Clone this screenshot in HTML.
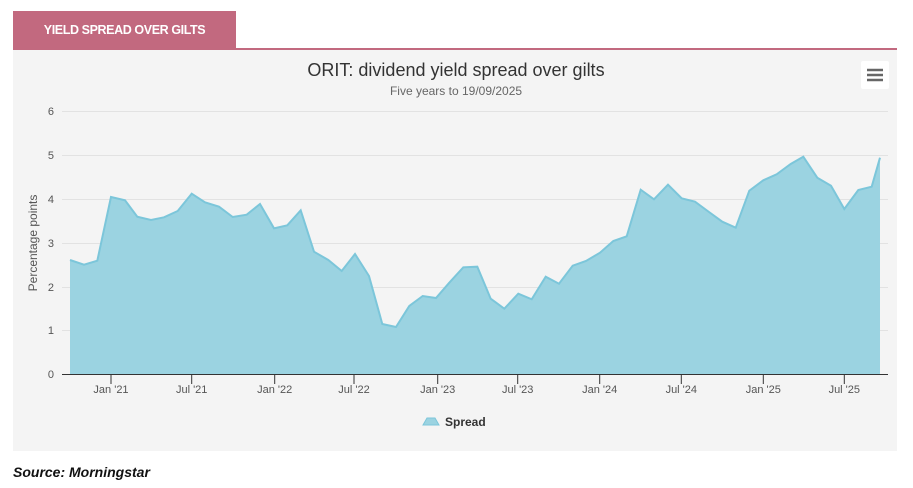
<!DOCTYPE html>
<html><head><style>
body{margin:0;width:913px;height:488px;background:#fff;font-family:"Liberation Sans",sans-serif;position:relative;overflow:hidden}
.tab{position:absolute;left:13px;top:11px;width:223px;height:38px;background:#c2697f;color:#fff;font-weight:bold;font-size:12.5px;line-height:38px;text-align:center;letter-spacing:-0.4px}
.rule{position:absolute;left:13px;top:48px;width:884px;height:2px;background:#c2697f}
.panel{position:absolute;left:13px;top:50px;width:884px;height:401px;background:#f4f4f4}
.src{position:absolute;left:13px;top:464px;font-size:14px;font-style:italic;color:#111;font-weight:bold}
</style></head><body>
<div class="tab">YIELD SPREAD OVER GILTS</div>
<div class="rule"></div>
<div class="panel"></div>
<svg width="913" height="488" style="position:absolute;left:0;top:0" font-family="Liberation Sans, sans-serif">
<text x="456" y="76" text-anchor="middle" font-size="18" fill="#333">ORIT: dividend yield spread over gilts</text>
<text x="456" y="95" text-anchor="middle" font-size="12" fill="#666">Five years to 19/09/2025</text>
<rect x="861" y="61" width="28" height="28" rx="2" fill="#fff"/>
<g stroke="#666" stroke-width="2.5"><line x1="867" y1="70" x2="883" y2="70"/><line x1="867" y1="75" x2="883" y2="75"/><line x1="867" y1="80" x2="883" y2="80"/></g>
<g stroke="#e2e2e2" stroke-width="1">
<line x1="62" y1="111.5" x2="888" y2="111.5"/><line x1="62" y1="155.5" x2="888" y2="155.5"/><line x1="62" y1="199.5" x2="888" y2="199.5"/><line x1="62" y1="243.5" x2="888" y2="243.5"/><line x1="62" y1="287.5" x2="888" y2="287.5"/><line x1="62" y1="330.5" x2="888" y2="330.5"/>
</g>
<g font-size="11" fill="#555" text-anchor="end">
<text x="54" y="115">6</text><text x="54" y="159">5</text><text x="54" y="203">4</text><text x="54" y="247">3</text><text x="54" y="291">2</text><text x="54" y="334">1</text><text x="54" y="378">0</text>
</g>
<text transform="translate(37,243) rotate(-90)" text-anchor="middle" font-size="12" fill="#555">Percentage points</text>
<polygon fill="#9bd3e1" stroke="none" points="70,374 70,260 84,264.7 97.3,260.7 111,197 125,200.3 137.3,216.7 151,220 164,217.3 177.7,211 191.7,193.7 205,202.3 219,206.7 232.7,217 246.7,214.7 260,204 274,228.3 287.3,225.3 300.7,210.3 314,251.7 328.3,260 341.7,271 355,254 369,276 382.3,324 396,327 409.3,306 422.7,296 436,298 449.3,282.7 463.3,267.3 477.3,266.7 490.7,298.7 504.3,308.7 518.3,293.7 531.7,299.3 545.7,276.7 559,283.7 572.7,265.7 586,261 600,252.7 613.3,241 626.7,236.3 640.7,189.7 654,199.3 668,184.7 681.7,198.3 695,201.7 709,212 722.3,221.7 735.7,227.7 749.3,190.7 763.3,180.3 776.7,174.3 790.7,164 803.3,156.7 817.3,177.7 831,185.7 844.3,209 858.3,190 871.7,186.7 880,157.7 880,374"/>
<polyline fill="none" stroke="#7cc6da" stroke-width="2" points="70,260 84,264.7 97.3,260.7 111,197 125,200.3 137.3,216.7 151,220 164,217.3 177.7,211 191.7,193.7 205,202.3 219,206.7 232.7,217 246.7,214.7 260,204 274,228.3 287.3,225.3 300.7,210.3 314,251.7 328.3,260 341.7,271 355,254 369,276 382.3,324 396,327 409.3,306 422.7,296 436,298 449.3,282.7 463.3,267.3 477.3,266.7 490.7,298.7 504.3,308.7 518.3,293.7 531.7,299.3 545.7,276.7 559,283.7 572.7,265.7 586,261 600,252.7 613.3,241 626.7,236.3 640.7,189.7 654,199.3 668,184.7 681.7,198.3 695,201.7 709,212 722.3,221.7 735.7,227.7 749.3,190.7 763.3,180.3 776.7,174.3 790.7,164 803.3,156.7 817.3,177.7 831,185.7 844.3,209 858.3,190 871.7,186.7 880,157.7"/>
<line x1="62" y1="374.5" x2="888" y2="374.5" stroke="#333" stroke-width="1"/>
<g stroke="#333" stroke-width="1">
<line x1="111" y1="374" x2="111" y2="384"/><line x1="191.7" y1="374" x2="191.7" y2="384"/><line x1="274.7" y1="374" x2="274.7" y2="384"/><line x1="354" y1="374" x2="354" y2="384"/><line x1="437.7" y1="374" x2="437.7" y2="384"/><line x1="517.7" y1="374" x2="517.7" y2="384"/><line x1="599.7" y1="374" x2="599.7" y2="384"/><line x1="681.3" y1="374" x2="681.3" y2="384"/><line x1="763.3" y1="374" x2="763.3" y2="384"/><line x1="844.3" y1="374" x2="844.3" y2="384"/>
</g>
<g font-size="11" fill="#555" text-anchor="middle">
<text x="111" y="393">Jan '21</text><text x="191.7" y="393">Jul '21</text><text x="274.7" y="393">Jan '22</text><text x="354" y="393">Jul '22</text><text x="437.7" y="393">Jan '23</text><text x="517.7" y="393">Jul '23</text><text x="599.7" y="393">Jan '24</text><text x="681.3" y="393">Jul '24</text><text x="763.3" y="393">Jan '25</text><text x="844.3" y="393">Jul '25</text>
</g>
<path d="M423,425 L427,418 L435,418 L439,425 Z" fill="#9bd3e1" stroke="#7cc6da"/>
<text x="445" y="426" font-size="12" font-weight="bold" fill="#333">Spread</text>
</svg>
<div class="src">Source: Morningstar</div>
</body></html>
